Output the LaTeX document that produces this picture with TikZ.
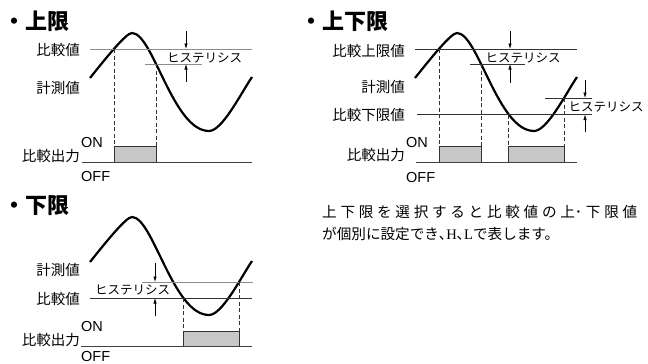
\documentclass[tikz,border=0pt]{standalone}
\usepackage{fontspec}
\setmainfont{Noto Sans CJK JP}
\newfontfamily\arialf{Liberation Sans}
\newfontfamily\timesf{Liberation Serif}
\usetikzlibrary{arrows.meta}
\XeTeXlinebreaklocale "ja"
\XeTeXlinebreakskip=0pt plus 6pt
\newcommand\lblsize{\fontsize{14.5}{16}\selectfont}
\newcommand\hyssize{\fontsize{12.5}{14}\selectfont}
\newcommand\ttlsize{\fontsize{22}{24}\selectfont}
\newcommand\parsize{\fontsize{14.6}{22}\selectfont}

\begin{document}
\begin{tikzpicture}[x=1pt, y=-1pt,
  wave/.style={line width=2.2pt, line join=round},
  lvl/.style={line width=0.9pt, black!80},
  lvlg/.style={line width=0.9pt, black!45},
  offline/.style={line width=0.9pt, black!75},
  drop/.style={dash pattern=on 4pt off 2.5pt, line width=0.7pt, black!80},
  outbox/.style={draw=black!80, fill=black!22, line width=0.8pt},
  hys/.style={-{Latex[length=5.5pt,width=3.4pt]}, line width=0.6pt},
  lbl/.style={anchor=east, inner sep=0, font=\lblsize},
  onoff/.style={anchor=west, inner sep=0, font=\arialf\lblsize},
  hlbl/.style={inner sep=0, font=\hyssize},
  ttl/.style={anchor=west, inner sep=0, font=\ttlsize\bfseries}
]
\useasboundingbox (0,0) rectangle (648,364);

% measured value, same wave in all three panels
\foreach \dx/\dy in {0/0, 325/0, 0/184}
  \draw[wave, shift={(\dx,\dy)}] (90,78) .. controls (106,58) and (126,33) .. (132,33)
    .. controls (153,33) and (173,131) .. (209,131)
    .. controls (222,131) and (240,95) .. (252,77);

% upper limit
\node[ttl] (t1) at (3,21.5) {・上限};
\coordinate (c1a) at (90,49); \coordinate (c1b) at (252,49);
\coordinate (h1a) at (145,64); \coordinate (h1b) at (202,64);
\draw[lvlg] (c1a) -- (c1b);
\draw[lvlg] (h1a) -- (h1b);
\node[lbl] (cv1) at (80,50) {比較値};
\node[lbl] (mv1) at (80,88) {計測値};
\node[lbl] (co1) at (80,156) {比較出力};
\node[onoff] (on1) at (81,143) {ON};
\node[onoff] (off1) at (81,177) {OFF};
\coordinate (x1a) at (114,49); \coordinate (x1b) at (156.5,64);
\coordinate (b1a) at (114,146); \coordinate (b1b) at (156.5,162);
\draw[outbox] (b1a) rectangle (b1b);
\draw[drop] (x1a) -- (b1a);
\draw[drop] (x1b) -- (x1b |- b1a);
\coordinate (z1a) at (82,162); \coordinate (z1b) at (252,162);
\draw[offline] (z1a) -- (z1b);
\coordinate (a1t) at (186,31); \coordinate (a1b) at (186,82);
\draw[hys] (a1t) -- (a1t |- c1a);
\draw[hys] (a1b) -- (a1b |- h1a);
\node[hlbl] (hy1) at (204.5,57.5) {ヒステリシス};

% upper and lower limit
\node[ttl] (t2) at (300,21.5) {・上下限};
\coordinate (c2a) at (415,49); \coordinate (c2b) at (577,49);
\coordinate (h2a) at (470,64); \coordinate (h2b) at (525,64);
\coordinate (l2a) at (417,114.5); \coordinate (l2b) at (592,114.5);
\coordinate (k2a) at (545,98); \coordinate (k2b) at (592,98);
\draw[lvl] (c2a) -- (c2b);
\draw[lvl] (h2a) -- (h2b);
\draw[lvl] (l2a) -- (l2b);
\draw[lvl] (k2a) -- (k2b);
\node[lbl] (cu2) at (405,51) {比較上限値};
\node[lbl] (mv2) at (405,87) {計測値};
\node[lbl] (cl2) at (405,115) {比較下限値};
\node[lbl] (co2) at (405,155) {比較出力};
\node[onoff] (on2) at (406,143) {ON};
\node[onoff] (off2) at (406,178) {OFF};
\coordinate (x2a) at (439,49); \coordinate (x2b) at (481.5,64);
\coordinate (x2c) at (508.6,114.5); \coordinate (x2d) at (563.9,98);
\coordinate (b2a) at (439,146); \coordinate (b2b) at (481.5,162);
\coordinate (b2c) at (508.6,146); \coordinate (b2d) at (563.9,162);
\draw[outbox] (b2a) rectangle (b2b);
\draw[outbox] (b2c) rectangle (b2d);
\draw[drop] (x2a) -- (b2a);
\draw[drop] (x2b) -- (x2b |- b2a);
\draw[drop] (x2c) -- (b2c);
\draw[drop] (x2d) -- (x2d |- b2c);
\coordinate (z2a) at (416,162); \coordinate (z2b) at (577,162);
\draw[offline] (z2a) -- (z2b);
\coordinate (a2t) at (510,31); \coordinate (a2b) at (510,83);
\draw[hys] (a2t) -- (a2t |- c2a);
\draw[hys] (a2b) -- (a2b |- h2a);
\node[hlbl] (hy2) at (523,57.5) {ヒステリシス};
\coordinate (a3t) at (585,80); \coordinate (a3b) at (585,132);
\draw[hys] (a3t) -- (a3t |- k2a);
\draw[hys] (a3b) -- (a3b |- l2a);
\node[hlbl] (hy3) at (606,107) {ヒステリシス};

% lower limit
\node[ttl] (t3) at (3,206) {・下限};
\coordinate (h3a) at (142,282); \coordinate (h3b) at (253,282);
\coordinate (c3a) at (90,298); \coordinate (c3b) at (252,298);
\draw[lvlg] (h3a) -- (h3b);
\draw[lvl] (c3a) -- (c3b);
\node[lbl] (mv3) at (80,270) {計測値};
\node[lbl] (cv3) at (80,299) {比較値};
\node[lbl] (co3) at (80,340) {比較出力};
\node[onoff] (on3) at (81,327) {ON};
\node[onoff] (off3) at (81,356.5) {OFF};
\coordinate (x3a) at (183.6,298); \coordinate (x3b) at (238.9,282);
\coordinate (b3a) at (183.6,331); \coordinate (b3b) at (238.9,346);
\draw[outbox] (b3a) rectangle (b3b);
\draw[drop] (x3a) -- (b3a);
\draw[drop] (x3b) -- (x3b |- b3a);
\coordinate (z3a) at (81,346); \coordinate (z3b) at (252,346);
\draw[offline] (z3a) -- (z3b);
\coordinate (a4t) at (155,263); \coordinate (a4b) at (155,316);
\draw[hys] (a4t) -- (a4t |- h3a);
\draw[hys] (a4b) -- (a4b |- c3a);
\node[hlbl] (hy4) at (132.5,290) {ヒステリシス};

% note
\node[anchor=north west, inner sep=0, text width=315pt, align=justify, font=\parsize] (note) at (322,205.5)
  {上下限を選択すると比較値の上･下限値\linebreak が個別に設定でき､{\timesf H}､{\timesf L}で表します。};
\end{tikzpicture}
\end{document}
